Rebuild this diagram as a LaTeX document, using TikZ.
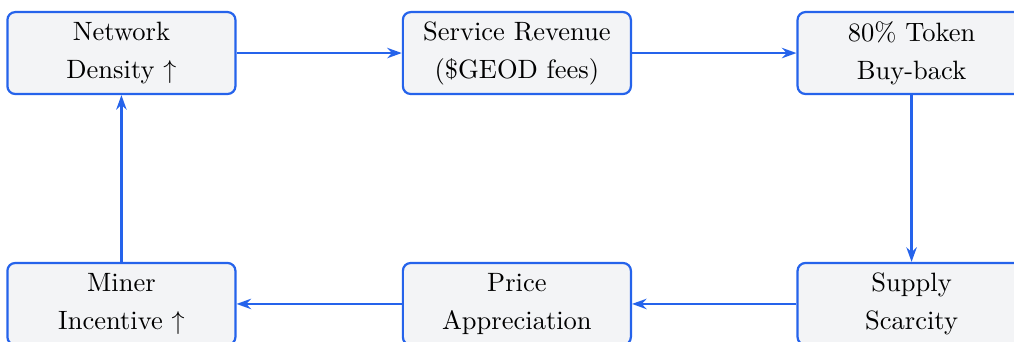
\documentclass[tikz,border=0pt]{standalone}
\usetikzlibrary{arrows.meta,positioning}
\definecolor{bordblue}{HTML}{2563EB}
\definecolor{boxfill}{HTML}{F3F4F6}
\begin{document}
\begin{tikzpicture}[x=1pt,y=-1pt,
  flowbox/.style={draw=bordblue, fill=boxfill, line width=0.85pt, rounded corners=3pt,
    minimum width=87.7pt, minimum height=31.5pt, inner sep=0pt, align=center,
    font=\fontsize{10.2}{14.6}\selectfont},
  flowarrow/.style={draw=bordblue, line width=0.85pt, -{Stealth[length=5.6pt,width=4pt]}}]
\useasboundingbox (0,0) rectangle (390,131.5);
\node[flowbox] (nd) at (46.7,20.4) {Network\\Density $\uparrow$};
\node[flowbox] (sr) at (198.8,20.4) {Service Revenue\\(\$GEOD fees)};
\node[flowbox] (tb) at (350.6,20.4) {80\% Token\\Buy-back};
\node[flowbox] (ss) at (350.6,116.9) {Supply\\Scarcity};
\node[flowbox] (pa) at (198.8,116.9) {Price\\Appreciation};
\node[flowbox] (mi) at (46.7,116.9) {Miner\\Incentive $\uparrow$};
\draw[flowarrow] (nd) -- (sr);
\draw[flowarrow] (sr) -- (tb);
\draw[flowarrow] (tb) -- (ss);
\draw[flowarrow] (ss) -- (pa);
\draw[flowarrow] (pa) -- (mi);
\draw[flowarrow] (mi) -- (nd);
\end{tikzpicture}
\end{document}
